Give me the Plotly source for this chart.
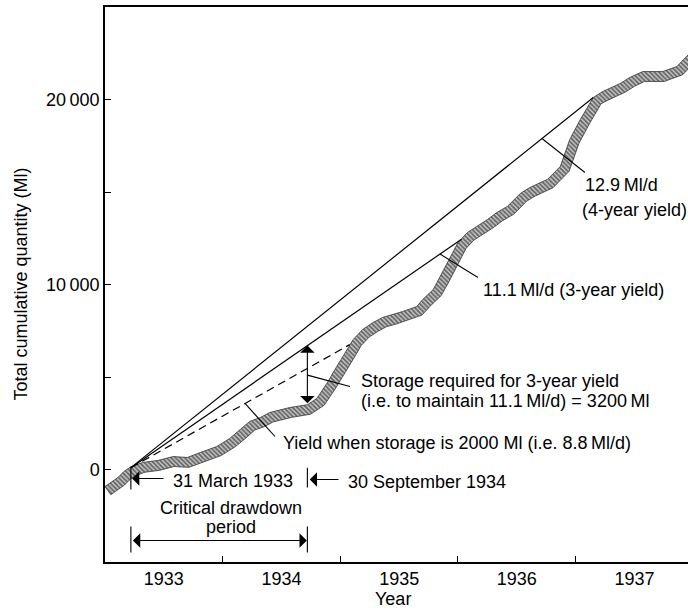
import numpy as np
import plotly.graph_objects as go

# ---- data -------------------------------------------------------------
# mass curve of inflow: time (decimal years) and total cumulative quantity (Ml)
years = [1933.00, 1933.06, 1933.11, 1933.16, 1933.22, 1933.32, 1933.45, 1933.58,
         1933.70, 1933.81, 1933.95, 1934.06, 1934.15, 1934.23, 1934.32, 1934.40,
         1934.57, 1934.72, 1934.80, 1934.89, 1934.97, 1935.06, 1935.11, 1935.19,
         1935.28, 1935.36, 1935.45, 1935.53, 1935.65, 1935.70, 1935.79, 1935.85,
         1935.91, 1935.96, 1936.00, 1936.08, 1936.16, 1936.25, 1936.33, 1936.42,
         1936.53, 1936.61, 1936.76, 1936.87, 1936.95, 1937.04, 1937.15, 1937.23,
         1937.38, 1937.46, 1937.57, 1937.74, 1937.86, 1938.00]
cumulative = [-920, -650, -430, -110, 150, 380, 490, 700,
              650, 920, 1240, 1680, 2160, 2600, 2810, 3080,
              3350, 3500, 3840, 4700, 5570, 6490, 7030, 7570,
              7950, 8220, 8380, 8540, 8810, 9190, 9730, 10430,
              11190, 11780, 12270, 12810, 13140, 13510, 13890, 14220,
              14920, 15240, 15680, 16380, 17840, 18920, 20110, 20430,
              20870, 21190, 21510, 21510, 21780, 22700]

# yield lines: common start and end points (year, Ml)
yield_start = (1933.22, 100)
four_year_end = (1937.15, 20110)    # 12.9 Ml/d
three_year_end = (1936.03, 12450)   # 11.1 Ml/d
storage_2000_end = (1935.08, 6750)  # 8.8 Ml/d

# critical drawdown period
period_start = 1933.22   # 31 March 1933
period_end = 1934.72     # 30 September 1934
storage_required = 3200  # Ml

year_ticks = [1933.5, 1934.5, 1935.5, 1936.5, 1937.5]
year_labels = ["1933", "1934", "1935", "1936", "1937"]
year_bounds = [1934, 1935, 1936, 1937]
q_ticks = [0, 10000, 20000]
q_labels = ["0", "10\u2009000", "20\u2009000"]
q_minor = [5000, 15000]

# ---- geometry -----------------------------------------------------------
W, H = 688, 610
MARGIN = dict(l=105, r=0, t=7, b=48)
X_RANGE = [1933.0, 1937.955]
Y_RANGE = [-5000, 25000]
px_per_year = (W - MARGIN["l"] - MARGIN["r"]) / (X_RANGE[1] - X_RANGE[0])
px_per_ml = (H - MARGIN["t"] - MARGIN["b"]) / (Y_RANGE[1] - Y_RANGE[0])

FONT = "Liberation Sans, Arial, Helvetica, sans-serif"
FS = 18

# ---- hatched band along the mass curve (constant screen thickness) -----
t = np.array(years, dtype=float)
q = np.array(cumulative, dtype=float)
sx, sy = t * px_per_year, -q * px_per_ml
dx, dy = np.gradient(sx), np.gradient(sy)
norm = np.hypot(dx, dy)
nx, ny = -dy / norm, dx / norm
band_px = 10
t_low = t + nx * band_px / px_per_year
q_low = q - ny * band_px / px_per_ml

fig = go.Figure()
fig.add_trace(go.Scatter(
    x=np.concatenate([t, t_low[::-1], t[:1]]),
    y=np.concatenate([q, q_low[::-1], q[:1]]),
    mode="lines", fill="toself", line=dict(color="#333", width=0.8),
    fillcolor="rgba(0,0,0,0)",
    fillpattern=dict(shape="\\", fgcolor="black", bgcolor="#c8c8c8", size=3.2, solidity=0.55),
    hoverinfo="skip",
))


def line_value(end, x):
    x0, y0 = yield_start
    x1, y1 = end
    return y0 + (y1 - y0) * (x - x0) / (x1 - x0)


# yield lines
for end, dash in [(four_year_end, "solid"), (three_year_end, "solid"),
                  (storage_2000_end, "8px,5px")]:
    fig.add_trace(go.Scatter(
        x=[yield_start[0], end[0]], y=[yield_start[1], end[1]],
        mode="lines", line=dict(color="black", width=1.2, dash=dash), hoverinfo="skip",
    ))

# storage arrow between the curve and the 3-year yield line
q_at_end = float(np.interp(period_end, t, q))
storage_top = q_at_end + storage_required

shapes = []


def seg(x0, y0, x1, y1, w=1.1):
    shapes.append(dict(type="line", xref="x", yref="y", x0=x0, y0=y0, x1=x1, y1=y1,
                       line=dict(color="black", width=w)))


# leader lines
seg(1936.714, line_value(four_year_end, 1936.714), 1937.079, 16054)
seg(1935.847, line_value(three_year_end, 1935.847), 1936.170, 10378)
seg(period_end, (q_at_end + storage_top) / 2, 1935.082, 4486)
seg(1934.19, line_value(storage_2000_end, 1934.19), 1934.445, 1784)

# date markers and drawdown period bars
seg(period_start, 150, period_start, -1080)
seg(period_end, 100, period_end, -970)
seg(period_start, -3080, period_start, -4490)
seg(period_end, -3080, period_end, -4490)

annotations = []


def arrow(x, y, ax, ay, both=False):
    annotations.append(dict(
        x=x, y=y, ax=ax, ay=ay, xref="x", yref="y", axref="x", ayref="y",
        text="", showarrow=True, arrowhead=1, arrowsize=2.2, arrowwidth=1.1,
        arrowcolor="black", standoff=0, startstandoff=0,
        arrowside="end+start" if both else "end", startarrowhead=1, startarrowsize=2.2,
    ))


def label(x, y, text, anchor="left"):
    annotations.append(dict(
        x=x, y=y, xref="x", yref="y", text=text, showarrow=False,
        xanchor=anchor, yanchor="middle", font=dict(family=FONT, size=FS, color="black"),
    ))


arrow(period_end, storage_top, period_end, q_at_end, both=True)
arrow(period_start + 0.01, -486, 1933.51, -486)
arrow(period_end + 0.02, -540, 1934.997, -540)
arrow(period_end - 0.005, -3838, period_start + 0.005, -3838, both=True)

label(1937.062, 15405, "12.9\u2009Ml/d")
label(1937.036, 14054, "(4-year yield)")
label(1936.195, 9730, "11.1\u2009Ml/d (3-year yield)")
label(1935.159, 4811, "Storage required for 3-year yield")
label(1935.159, 3676, "(i.e. to maintain 11.1\u2009Ml/d) = 3200\u2009Ml")
label(1934.496, 1459, "Yield when storage is 2000 Ml (i.e. 8.8\u2009Ml/d)")
label(1933.561, -595, "31 March 1933")
label(1935.048, -649, "30 September 1934")
label(1934.071, -2054, "Critical drawdown", anchor="center")
label(1934.071, -3081, "period", anchor="center")

# axis titles
annotations.append(dict(xref="paper", yref="paper", x=0, y=0.5, xshift=-85,
                        text="Total cumulative quantity (Ml)", textangle=-90, showarrow=False,
                        xanchor="center", yanchor="middle",
                        font=dict(family=FONT, size=FS, color="black")))
annotations.append(dict(xref="paper", yref="paper", x=0.494, y=0, yshift=-37,
                        text="Year", showarrow=False, xanchor="center", yanchor="middle",
                        font=dict(family=FONT, size=FS, color="black")))

fig.update_layout(
    width=W, height=H, margin=dict(MARGIN, pad=0),
    paper_bgcolor="white", plot_bgcolor="white", showlegend=False,
    shapes=shapes, annotations=annotations,
    font=dict(family=FONT, size=FS, color="black"),
    xaxis=dict(range=X_RANGE, showgrid=False, zeroline=False,
               showline=True, linecolor="black", linewidth=1.5, mirror=True,
               tickmode="array", tickvals=year_ticks, ticktext=year_labels,
               ticks="inside", ticklen=0, tickcolor="black",
               minor=dict(tickmode="array", tickvals=year_bounds, ticks="inside",
                          ticklen=6, tickcolor="black", tickwidth=1, showgrid=False),
               tickfont=dict(family=FONT, size=FS, color="black")),
    yaxis=dict(range=Y_RANGE, showgrid=False, zeroline=False,
               showline=True, linecolor="black", linewidth=1.5,
               tickmode="array", tickvals=q_ticks, ticktext=q_labels,
               ticks="inside", ticklen=6, tickcolor="black", tickwidth=1,
               minor=dict(tickmode="array", tickvals=q_minor, ticks="inside",
                          ticklen=6, tickcolor="black", tickwidth=1, showgrid=False),
               tickfont=dict(family=FONT, size=FS, color="black")),
)

fig.write_html("out.html")
